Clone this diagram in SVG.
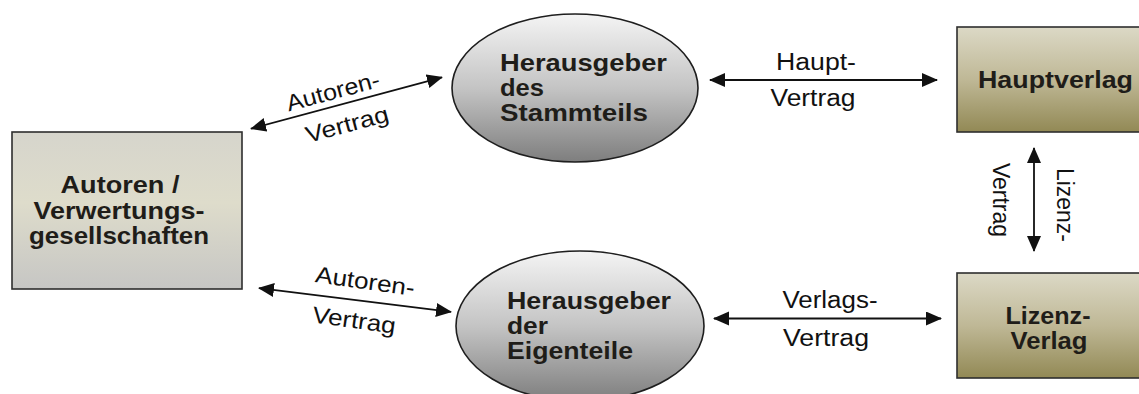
<svg xmlns="http://www.w3.org/2000/svg" width="1139" height="394" viewBox="0 0 1139 394">
<defs>
<linearGradient id="gLeft" x1="0" y1="0" x2="0" y2="1">
<stop offset="0" stop-color="#d6d5cc"/>
<stop offset="0.45" stop-color="#dedccb"/>
<stop offset="1" stop-color="#c6c6c4"/>
</linearGradient>
<linearGradient id="gEll" x1="0" y1="0" x2="0" y2="1">
<stop offset="0" stop-color="#f4f4f4"/>
<stop offset="0.5" stop-color="#c4c4c4"/>
<stop offset="1" stop-color="#7e7e7e"/>
</linearGradient>
<linearGradient id="gRight" x1="0" y1="0" x2="0" y2="1">
<stop offset="0" stop-color="#dcd9c6"/>
<stop offset="0.5" stop-color="#bfb896"/>
<stop offset="1" stop-color="#928955"/>
</linearGradient>
<marker id="ah" markerUnits="userSpaceOnUse" markerWidth="17" markerHeight="15" refX="15" refY="7" orient="auto-start-reverse">
<path d="M0,0 L16,7 L0,14 Z" fill="#111"/>
</marker>
<style>
.box{stroke:#2e2e2e;stroke-width:1.6}
.ell{stroke:#1e1e1e;stroke-width:1.6}
.bt{font-family:"Liberation Sans",Arial,sans-serif;font-weight:bold;font-size:24.5px;fill:#1f1d19}
.lt{font-family:"Liberation Sans",Arial,sans-serif;font-size:23px;fill:#111}
.con{stroke:#111;stroke-width:1.8;fill:none;marker-start:url(#ah);marker-end:url(#ah)}
</style>
</defs>
<g id="autoren">
<rect class="box" x="12" y="132" width="230" height="157" fill="url(#gLeft)"/>
<text class="bt" x="120" y="193" text-anchor="middle" textLength="119" lengthAdjust="spacingAndGlyphs">Autoren /</text>
<text class="bt" x="119" y="219" text-anchor="middle" textLength="171" lengthAdjust="spacingAndGlyphs">Verwertungs-</text>
<text class="bt" x="119" y="244" text-anchor="middle" textLength="180" lengthAdjust="spacingAndGlyphs">gesellschaften</text>
</g>
<g id="stammteil">
<ellipse class="ell" cx="575" cy="88" rx="123" ry="74" fill="url(#gEll)"/>
<text class="bt" x="500" y="71" textLength="167" lengthAdjust="spacingAndGlyphs">Herausgeber</text>
<text class="bt" x="500" y="96" textLength="44" lengthAdjust="spacingAndGlyphs">des</text>
<text class="bt" x="500" y="121" textLength="148" lengthAdjust="spacingAndGlyphs">Stammteils</text>
</g>
<g id="eigenteile">
<ellipse class="ell" cx="580" cy="326" rx="124" ry="75" fill="url(#gEll)"/>
<text class="bt" x="507" y="309" textLength="164" lengthAdjust="spacingAndGlyphs">Herausgeber</text>
<text class="bt" x="507" y="334" textLength="41" lengthAdjust="spacingAndGlyphs">der</text>
<text class="bt" x="507" y="359" textLength="126" lengthAdjust="spacingAndGlyphs">Eigenteile</text>
</g>
<g id="hauptverlag">
<rect class="box" x="957" y="27" width="200" height="105" fill="url(#gRight)"/>
<text class="bt" x="978" y="88" textLength="155" lengthAdjust="spacingAndGlyphs">Hauptverlag</text>
</g>
<g id="lizenzverlag">
<rect class="box" x="957" y="273" width="200" height="105" fill="url(#gRight)"/>
<text class="bt" x="1048" y="324" text-anchor="middle" textLength="85" lengthAdjust="spacingAndGlyphs">Lizenz-</text>
<text class="bt" x="1049" y="349" text-anchor="middle" textLength="77" lengthAdjust="spacingAndGlyphs">Verlag</text>
</g>
<g id="connectors">
<line class="con" x1="251" y1="128.7" x2="442" y2="77.3"/>
<text class="lt" transform="translate(335,99) rotate(-15)" text-anchor="middle" textLength="96" lengthAdjust="spacingAndGlyphs">Autoren-</text>
<text class="lt" transform="translate(349,132) rotate(-15)" text-anchor="middle" textLength="85" lengthAdjust="spacingAndGlyphs">Vertrag</text>
<line class="con" x1="259" y1="288.1" x2="451" y2="311.9"/>
<text class="lt" transform="translate(364,289) rotate(8)" text-anchor="middle" textLength="100" lengthAdjust="spacingAndGlyphs">Autoren-</text>
<text class="lt" transform="translate(353,328) rotate(8)" text-anchor="middle" textLength="84" lengthAdjust="spacingAndGlyphs">Vertrag</text>
<line class="con" x1="710" y1="80" x2="937" y2="80"/>
<text class="lt" x="816" y="70" text-anchor="middle" textLength="80" lengthAdjust="spacingAndGlyphs">Haupt-</text>
<text class="lt" x="813" y="106" text-anchor="middle" textLength="85" lengthAdjust="spacingAndGlyphs">Vertrag</text>
<line class="con" x1="714" y1="318.5" x2="941" y2="318.5"/>
<text class="lt" x="830" y="308" text-anchor="middle" textLength="95" lengthAdjust="spacingAndGlyphs">Verlags-</text>
<text class="lt" x="826" y="346" text-anchor="middle" textLength="86" lengthAdjust="spacingAndGlyphs">Vertrag</text>
<line class="con" x1="1034" y1="148" x2="1034" y2="251"/>
<text class="lt" transform="translate(993,200) rotate(90)" text-anchor="middle" textLength="74" lengthAdjust="spacingAndGlyphs">Vertrag</text>
<text class="lt" transform="translate(1057,205) rotate(90)" text-anchor="middle" textLength="74" lengthAdjust="spacingAndGlyphs">Lizenz-</text>
</g>
</svg>
